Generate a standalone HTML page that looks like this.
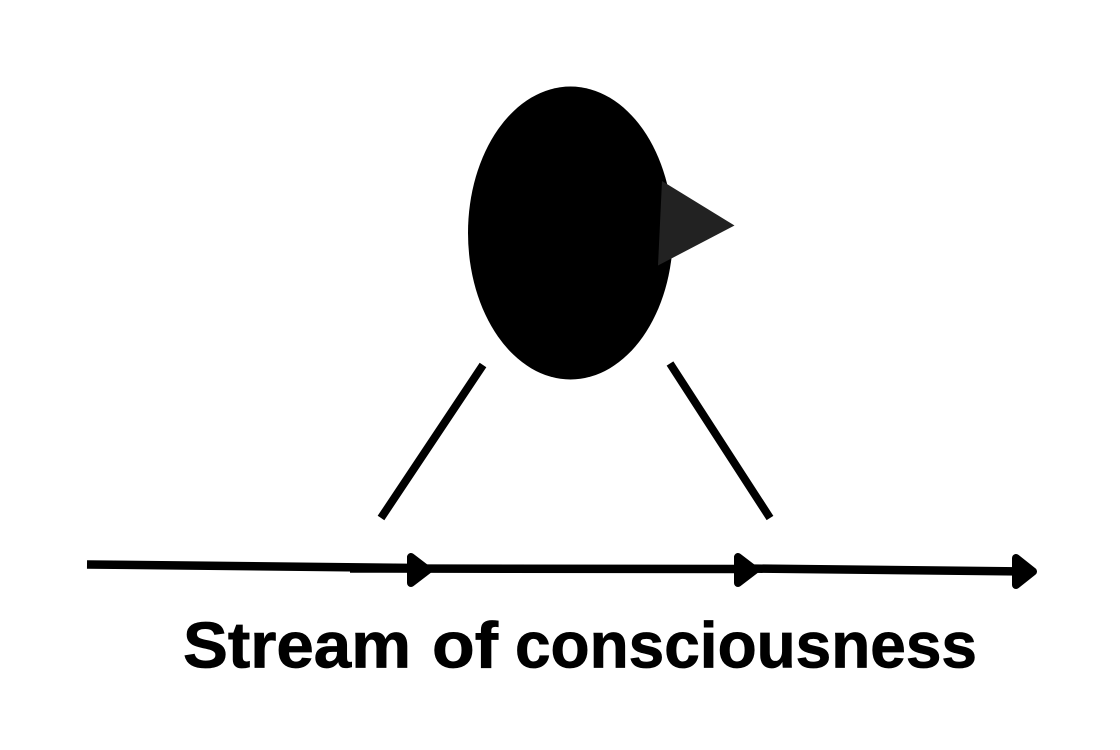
<!DOCTYPE html>
<html><head><meta charset="utf-8"><style>html,body{margin:0;padding:0;background:#fff}svg{display:block}</style></head>
<body><svg width="1120" height="750" viewBox="0 0 1120 750" xmlns="http://www.w3.org/2000/svg">
<rect width="1120" height="750" fill="#fff"/>
<ellipse cx="570.5" cy="233" rx="102.5" ry="146.5" fill="#000"/>
<polygon points="662,181 734.5,225.5 658,265.5" fill="#222"/>
<line x1="483" y1="365" x2="381" y2="518" stroke="#000" stroke-width="8"/>
<line x1="670" y1="363.500" x2="770" y2="518" stroke="#000" stroke-width="8"/>
<line x1="87" y1="564.500" x2="420" y2="568" stroke="#000" stroke-width="8.500"/>
<line x1="350" y1="568.500" x2="745" y2="569" stroke="#000" stroke-width="8.500"/>
<line x1="745" y1="568.500" x2="1025" y2="571.500" stroke="#000" stroke-width="8.500"/>
<polygon points="411,557 411,583 428,570" fill="#000" stroke="#000" stroke-width="8" stroke-linejoin="round"/>
<polygon points="738,557 738,583 755,570" fill="#000" stroke="#000" stroke-width="8" stroke-linejoin="round"/>
<polygon points="1016,558 1016,585 1033,571.500" fill="#000" stroke="#000" stroke-width="8" stroke-linejoin="round"/>
<g font-family="'Liberation Sans',sans-serif" font-weight="700" font-size="65" fill="#000" stroke="#000" stroke-width="0.800">
<text x="183" y="667.500" textLength="228" lengthAdjust="spacingAndGlyphs">Stream</text>
<text x="432" y="667.500" textLength="66" lengthAdjust="spacingAndGlyphs">of</text>
<text x="515" y="667.500" textLength="462" lengthAdjust="spacingAndGlyphs">consciousness</text>
</g>
</svg></body></html>
